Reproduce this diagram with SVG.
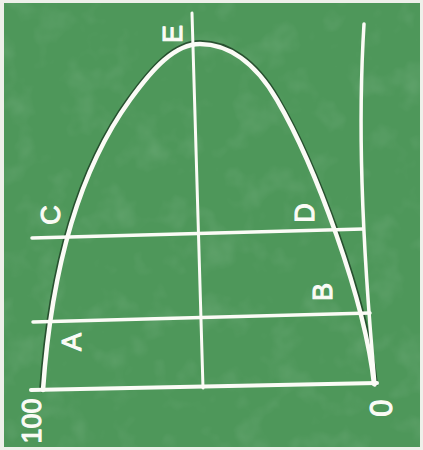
<svg xmlns="http://www.w3.org/2000/svg" width="423" height="450" viewBox="0 0 423 450">
<defs>
<filter id="chalk" x="0" y="0" width="100%" height="100%">
<feTurbulence type="fractalNoise" baseFrequency="0.03" numOctaves="3" seed="7" result="n"/>
<feColorMatrix in="n" type="matrix" values="0 0 0 0 0.40  0 0 0 0 0.64  0 0 0 0 0.45  0 0 0 1.4 -0.7" result="c"/>
<feComposite in="c" in2="SourceGraphic" operator="in"/>
</filter>
</defs>
<style>
.ln{fill:none;stroke:#fbfbf6;stroke-linecap:round;stroke-linejoin:round}
.sh{fill:none;stroke:#16301b;stroke-opacity:0.7;stroke-linecap:round}
.lb{font-family:"Liberation Sans",Arial,sans-serif;font-size:27px;fill:#fbfbf6;stroke:#fbfbf6;stroke-width:1.1;stroke-linejoin:round;text-anchor:middle}
</style>
<rect width="423" height="450" fill="#eef0ea"/>
<rect x="4" y="3" width="416" height="444" fill="#4e975a"/>
<rect x="4" y="3" width="416" height="444" fill="#4e975a" filter="url(#chalk)" opacity="0.3"/>
<g id="connectors">
<path class="sh" stroke-width="4.5" transform="translate(205 390) scale(1.01 1.005) translate(-205 -390)" d="M 43 390 C 50 290, 72 180, 130 100 C 153 68, 175 44, 200 44 C 228 44, 255 62, 277 100 C 315 165, 365 300, 374 384"/>
<path id="curve" class="ln" stroke-width="4.5" d="M 43 390 C 50 290, 72 180, 130 100 C 153 68, 175 44, 200 44 C 228 44, 255 62, 277 100 C 315 165, 365 300, 374 384"/>
<path id="axisE" class="ln" stroke-width="3" d="M 192 13 L 203 388"/>
<path id="axisRight" class="ln" stroke-width="3.5" d="M 364 24 C 358 120, 361 230, 375 385"/>
<path id="lineCD" class="ln" stroke-width="3.5" d="M 32 238 L 363 229"/>
<path id="lineAB" class="ln" stroke-width="3.5" d="M 33 322 L 370 313"/>
<path id="base" class="ln" stroke-width="4" d="M 31 390 L 377 383"/>
</g>
<g id="label-E"><text class="lb" transform="translate(172 34) rotate(-90)" x="0" y="10">E</text></g>
<g id="label-C"><text class="lb" transform="translate(50 215) rotate(-90)" x="0" y="10">C</text></g>
<g id="label-D"><text class="lb" transform="translate(304 213) rotate(-90)" x="0" y="10">D</text></g>
<g id="label-B"><text class="lb" transform="translate(322 292) rotate(-90)" x="0" y="10">B</text></g>
<g id="label-A"><text class="lb" transform="translate(71 342) rotate(-90)" x="0" y="10">A</text></g>
<g id="label-100"><text class="lb" transform="translate(31 421) rotate(-90)" x="0" y="10">100</text></g>
<g id="label-0"><text class="lb" style="font-size:31px" transform="translate(380 408) rotate(-90)" x="0" y="12">0</text></g>
</svg>
